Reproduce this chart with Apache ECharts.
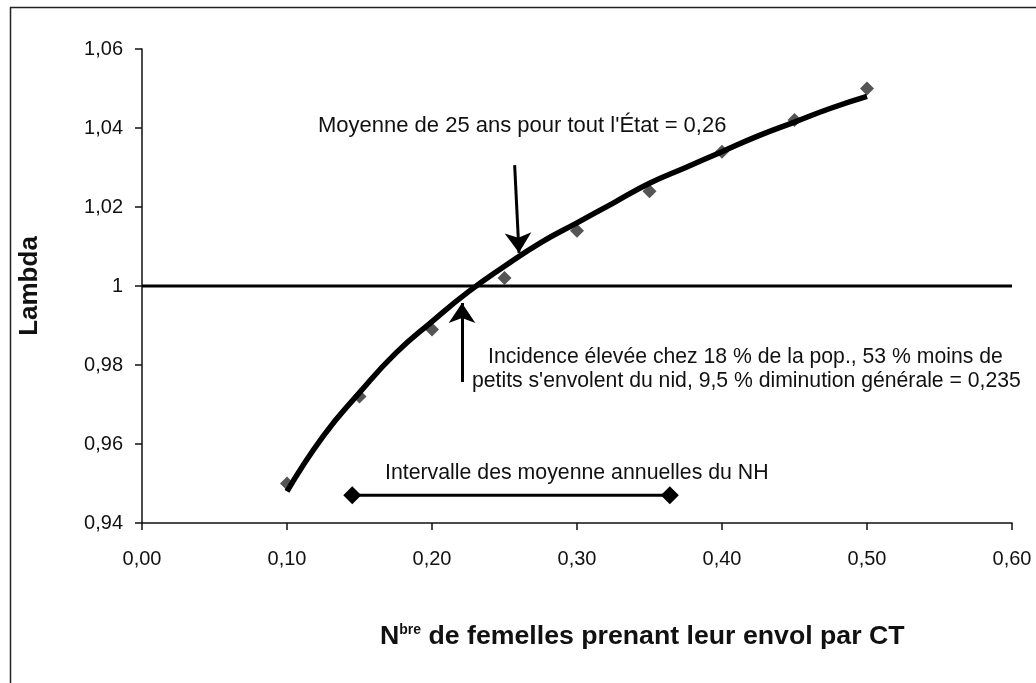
<!DOCTYPE html>
<html>
<head>
<meta charset="utf-8">
<script src="https://cdn.jsdelivr.net/npm/echarts@6/dist/echarts.min.js"></script>
<style>
  html, body { margin: 0; padding: 0; background: #fff; }
  #main { width: 1036px; height: 683px; }
</style>
</head>
<body>
<div id="main"></div>
<script>
(function(){
	// points observés (losanges)
	var obsX = [0.10, 0.15, 0.20, 0.25, 0.30, 0.35, 0.40, 0.45, 0.50];
	var obsLambda = [0.950, 0.972, 0.989, 1.002, 1.014, 1.024, 1.034, 1.042, 1.050];
	// courbe d'ajustement
	var fitX = [0.10, 0.125, 0.15, 0.175, 0.20, 0.225, 0.25, 0.275, 0.30, 0.325, 0.35, 0.375, 0.40, 0.425, 0.45, 0.475, 0.50];
	var fitLambda = [0.948, 0.962, 0.973, 0.983, 0.991, 0.9985, 1.005, 1.011, 1.016, 1.021, 1.026, 1.030, 1.034, 1.038, 1.0415, 1.045, 1.048];
	// ligne lambda = 1
	var refX = [0.00, 0.60];
	var refLambda = [1, 1];
	// intervalle des moyennes annuelles du NH
	var nhX = [0.145, 0.364];
	var nhLambda = [0.947, 0.947];
	// flèches
	var arrowDown = [[0.257, 1.0306], [0.260, 1.0084]];
	var arrowUp = [[0.2207, 0.9757], [0.2207, 0.9957]];

	var FONT = '"Liberation Sans", Arial, sans-serif';

	function zip(xs, ys){
		var out = [];
		for (var i = 0; i < xs.length; i++) out.push([xs[i], ys[i]]);
		return out;
	}
	function fmtComma(v){
		var n = +(+v).toFixed(2);
		if (n === 1) return '1';
		return n.toFixed(2).replace('.', ',');
	}

	var chart = echarts.init(document.getElementById('main'));
	var option = {
		backgroundColor: '#fff',
		animation: false,
		grid: { left: 142, right: 24, top: 49, bottom: 160 },
		xAxis: {
			type: 'value', min: 0, max: 0.6, interval: 0.1,
			axisLine: { lineStyle: { color: '#111', width: 1.5 } },
			axisTick: { length: 7, lineStyle: { color: '#111', width: 1.5 } },
			splitLine: { show: false },
			axisLabel: { color: '#111', fontSize: 20, fontFamily: FONT, margin: 26, formatter: fmtComma }
		},
		yAxis: {
			type: 'value', min: 0.94, max: 1.06, interval: 0.02,
			name: 'Lambda', nameLocation: 'middle', nameGap: 99, nameRotate: 90,
			nameTextStyle: { color: '#111', fontSize: 26, fontWeight: 'bold', fontFamily: FONT },
			axisLine: { show: true, lineStyle: { color: '#111', width: 1.5 } },
			axisTick: { show: true, length: 7, lineStyle: { color: '#111', width: 1.5 } },
			splitLine: { show: false },
			axisLabel: { color: '#111', fontSize: 20, fontFamily: FONT, margin: 19, formatter: fmtComma }
		},
		series: [
			{
				type: 'line', data: zip(refX, refLambda), symbol: 'none',
				lineStyle: { color: '#000', width: 3 }, z: 2
			},
			{
				type: 'scatter', data: zip(obsX, obsLambda), symbol: 'diamond', symbolSize: 14,
				itemStyle: { color: '#2b2b2b' }, z: 3
			},
			{
				type: 'line', data: zip(fitX, fitLambda), symbol: 'none', smooth: 0.5,
				lineStyle: { color: '#000', width: 5.5 }, z: 4
			},
			{
				type: 'line', data: zip(nhX, nhLambda), symbol: 'diamond', symbolSize: 18, showSymbol: true,
				itemStyle: { color: '#000' }, lineStyle: { color: '#000', width: 3 }, z: 4
			},
			{
				type: 'lines', coordinateSystem: 'cartesian2d', z: 5,
				symbol: ['none', 'arrow'], symbolSize: [17, 20],
				lineStyle: { color: '#000', width: 3, opacity: 1 },
				data: [ { coords: arrowDown }, { coords: arrowUp } ]
			}
		],
		graphic: [
			{ type: 'rect', left: 8, top: 5, shape: { width: 1100, height: 760 },
			  style: { fill: 'none', stroke: '#222', lineWidth: 1.5 } },
			{ type: 'text', left: 318, top: 115,
			  style: { text: "Moyenne de 25 ans pour tout l'État = 0,26", font: '22px ' + FONT, fill: '#111' } },
			{ type: 'text', left: 488, top: 347,
			  style: { text: "Incidence élevée chez 18 % de la pop., 53 % moins de", font: '21.2px ' + FONT, fill: '#111' } },
			{ type: 'text', left: 472, top: 371,
			  style: { text: "petits s'envolent du nid, 9,5 % diminution générale = 0,235", font: '21.2px ' + FONT, fill: '#111' } },
			{ type: 'text', left: 385, top: 463,
			  style: { text: 'Intervalle des moyenne annuelles du NH', font: '21.3px ' + FONT, fill: '#111' } },
			{ type: 'text', left: 380, top: 623,
			  style: {
				text: '{n|N}{s|bre}{n| de femelles prenant leur envol par CT}',
				rich: {
					n: { fontSize: 26.7, fontWeight: 'bold', fontFamily: FONT, fill: '#111', color: '#111' },
					s: { fontSize: 14, fontWeight: 'bold', fontFamily: FONT, fill: '#111', color: '#111', verticalAlign: 'top' }
				}
			  } }
		]
	};
	chart.setOption(option);
})();
</script>
</body>
</html>
